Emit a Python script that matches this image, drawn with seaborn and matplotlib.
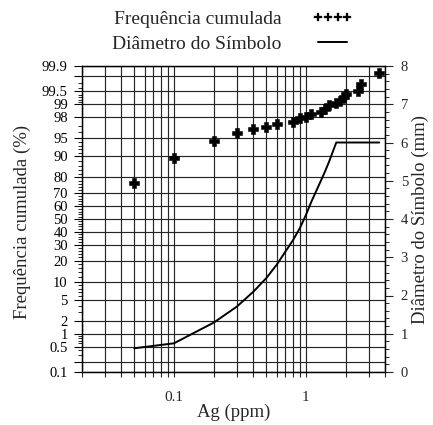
import numpy as np
import pandas as pd
import matplotlib
matplotlib.use("Agg")
import matplotlib.pyplot as plt
import seaborn as sns
from statistics import NormalDist
from matplotlib.lines import Line2D
from matplotlib.ticker import FixedLocator, FixedFormatter, NullFormatter

# ---------------- data ----------------
ag_ppm = [0.05, 0.1, 0.2, 0.3, 0.4, 0.5, 0.6, 0.8, 0.9, 1.0, 1.1, 1.3, 1.4,
          1.5, 1.7, 1.8, 1.95, 2.0, 2.5, 2.6, 3.6]
freq_cum = [76.8, 89.0, 94.2, 95.9, 96.5, 96.9, 97.2, 97.5, 97.9, 98.06, 98.3,
            98.49, 98.67, 98.94, 99.06, 99.16, 99.32, 99.41, 99.51, 99.68, 99.84]
diam_mm = [0.62, 0.75, 1.29, 1.71, 2.10, 2.45, 2.80, 3.45, 3.76, 4.10, 4.45,
           5.0, 5.25, 5.5, 6.0, 6.0, 6.0, 6.0, 6.0, 6.0, 6.0]

prob_ticks = [0.1, 0.2, 0.5, 1, 2, 5, 10, 20, 30, 40, 50, 60, 70, 80, 90, 95,
              98, 99, 99.5, 99.8, 99.9]
prob_labels = ["0.1", "", "0.5", "1", "2", "5", "10", "20", "30", "40", "50",
               "60", "70", "80", "90", "95", "98", "99", "99.5", "", "99.9"]
x_major = [0.1, 1]
x_labels = ["0.1", "1"]
x_minor = [0.02, 0.03, 0.04, 0.05, 0.06, 0.07, 0.08, 0.09, 0.2, 0.3, 0.4, 0.5,
           0.6, 0.7, 0.8, 0.9, 2, 3, 4]
diam_ticks = [0, 1, 2, 3, 4, 5, 6, 7, 8]

legend_labels = ["Frequência cumulada", "Diâmetro do Símbolo"]

df = pd.DataFrame({"ag": ag_ppm, "freq": freq_cum, "diam": diam_mm})

# ---------------- style ----------------
sns.set_style("ticks")
plt.rcParams["font.family"] = ["Liberation Serif", "DejaVu Serif"]
plt.rcParams["axes.edgecolor"] = "black"
plt.rcParams["axes.linewidth"] = 0.9

nd = NormalDist()


def fwd(p):
    p = np.asarray(p, dtype=float)
    q = np.clip(p / 100.0, 1e-9, 1 - 1e-9)
    return np.vectorize(nd.inv_cdf, otypes=[float])(q)


def inv(z):
    z = np.asarray(z, dtype=float)
    return np.vectorize(nd.cdf, otypes=[float])(z) * 100.0


fig = plt.figure(figsize=(4.33, 4.25), dpi=100)
ax = fig.add_axes([81.7 / 433, 1 - 372 / 425, (385.3 - 81.7) / 433, (372 - 66) / 425])
ax.set_xscale("log")
ax2 = ax.twinx()

sns.scatterplot(data=df, x="ag", y="freq", ax=ax, marker="P", s=48,
                color="black", edgecolor="black", linewidth=0.4,
                legend=False, zorder=3)
sns.lineplot(data=df, x="ag", y="diam", ax=ax2, color="black", lw=1.4,
             estimator=None, sort=False, legend=False)

ax.set_yscale("function", functions=(fwd, inv))
ax.set_ylim(0.1, 99.9)
ax.set_xlim(0.02, 4)
ax2.set_ylim(0, 8)

# y (probability) ticks
ax.yaxis.set_major_locator(FixedLocator(prob_ticks))
ax.yaxis.set_major_formatter(FixedFormatter(prob_labels))
minor_prob = np.concatenate([np.arange(0.1, 1.0, 0.1), np.arange(1, 10, 1),
                             np.arange(10, 90, 2), np.arange(90, 99, 1),
                             np.arange(99, 99.95, 0.1)])
ax.yaxis.set_minor_locator(FixedLocator(minor_prob))
ax.yaxis.set_minor_formatter(NullFormatter())

# x ticks
ax.xaxis.set_major_locator(FixedLocator(x_major))
ax.xaxis.set_major_formatter(FixedFormatter(x_labels))
ax.xaxis.set_minor_locator(FixedLocator(x_minor))
ax.xaxis.set_minor_formatter(NullFormatter())

# right axis ticks
ax2.yaxis.set_major_locator(FixedLocator(diam_ticks))
ax2.yaxis.set_minor_locator(FixedLocator(np.arange(0, 8.01, 0.2)))
ax2.yaxis.set_minor_formatter(NullFormatter())

grid_kw = dict(color="0.15", lw=0.85)
ax.grid(True, which="major", axis="y", **grid_kw)
ax.grid(True, which="both", axis="x", **grid_kw)
ax.set_axisbelow(True)

ax.tick_params(axis="y", which="major", direction="out", length=6, width=0.8,
               labelsize=10.5, pad=4, colors="black")
ax.tick_params(axis="y", which="minor", direction="out", length=3, width=0.7)
ax.tick_params(axis="x", which="both", direction="out", length=3.5, width=0.8,
               labelsize=11, pad=10)
ax2.tick_params(axis="y", which="major", direction="out", length=6, width=0.8,
                labelsize=10.5, pad=5)
ax2.tick_params(axis="y", which="minor", direction="out", length=3, width=0.7)

for a in (ax, ax2):
    for s in a.spines.values():
        s.set_visible(True)
        s.set_color("black")
        s.set_linewidth(0.9)

ax.set_xlabel("Ag (ppm)", fontsize=13.5)
ax.set_ylabel("Frequência cumulada (%)", fontsize=13.5)
ax2.set_ylabel("Diâmetro do Símbolo (mm)", fontsize=13.5)
ax.xaxis.set_label_coords(0.5, -0.105)
ax.yaxis.set_label_coords(-0.167, 0.49)
ax2.yaxis.set_label_coords(1.086, 0.5)

h1 = Line2D([], [], ls="none", marker="P", color="black", ms=5.2, mew=0.2)
h2 = Line2D([], [], color="black", lw=1.4)
fig.legend([h1, h2], legend_labels, loc="upper left",
           bbox_to_anchor=(112 / 433, 1 - 10 / 425), frameon=False, fontsize=14,
           markerfirst=False, numpoints=4, handlelength=2.1, handletextpad=1.6,
           labelspacing=0.38, borderpad=0, borderaxespad=0)

fig.savefig("out.png", dpi=100)
